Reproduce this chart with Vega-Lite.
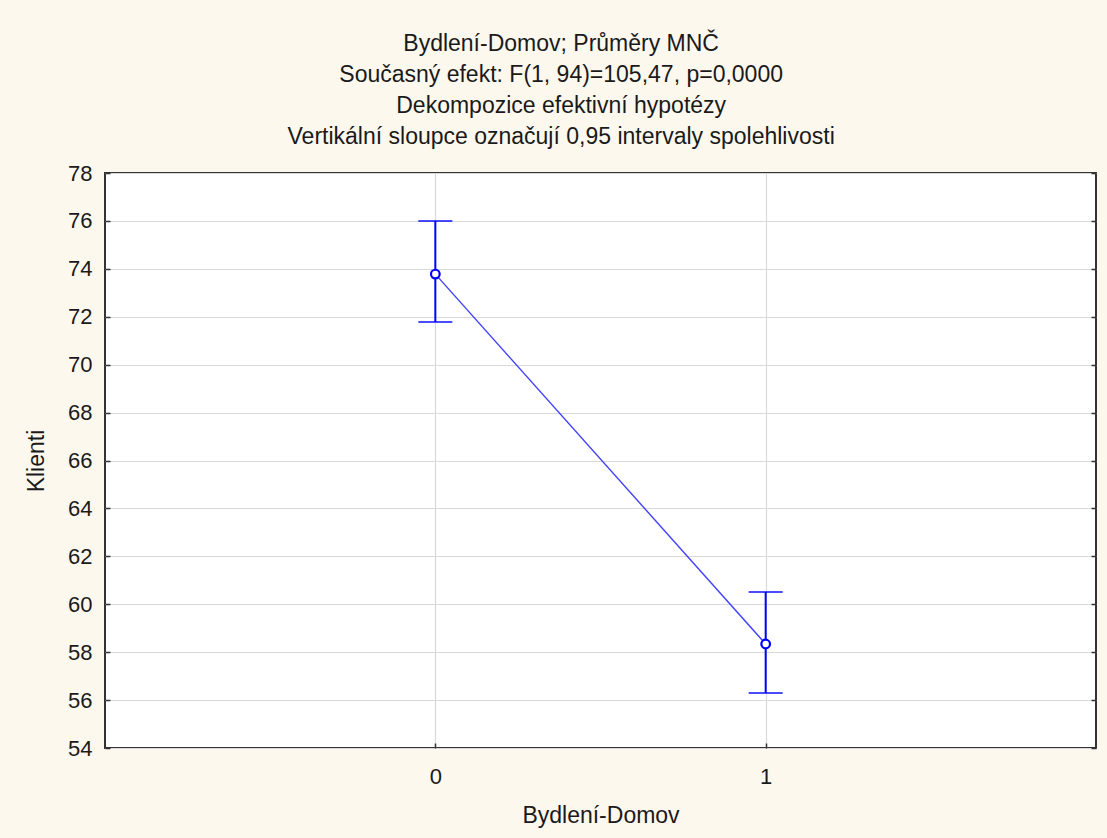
{
  "$schema": "https://vega.github.io/schema/vega-lite/v6.json",
  "width": 991,
  "height": 575,
  "autosize": {"type": "none"},
  "padding": {"left": 105, "top": 173, "right": 11, "bottom": 90},
  "background": "#fdf8ee",
  "title": {
    "text": ["Bydlení-Domov; Průměry MNČ", "Současný efekt: F(1, 94)=105,47, p=0,0000", "Dekompozice efektivní hypotézy", "Vertikální sloupce označují 0,95 intervaly spolehlivosti"],
    "font": "Liberation Sans",
    "fontSize": 23,
    "fontWeight": "normal",
    "color": "#1a1a1a",
    "lineHeight": 31,
    "anchor": "middle",
    "frame": "bounds",
    "offset": 13
  },
  "config": {
    "view": {"fill": "white", "stroke": "#333333", "strokeWidth": 2},
    "axis": {
      "labelFont": "Liberation Sans",
      "titleFont": "Liberation Sans",
      "labelFontSize": 22,
      "titleFontSize": 23,
      "labelColor": "#1a1a1a",
      "titleColor": "#1a1a1a",
      "titleFontWeight": "normal",
      "gridColor": "#d9d9d9",
      "gridWidth": 1.2,
      "domain": false,
      "tickColor": "#333333",
      "tickSize": -5,
      "tickWidth": 1.5
    }
  },
  "data": {
    "values": [
      {"g": 0, "mean": 73.78, "lo": 71.78, "hi": 76.0},
      {"g": 1, "mean": 58.34, "lo": 56.3, "hi": 60.51}
    ]
  },
  "encoding": {
    "x": {
      "field": "g",
      "type": "quantitative",
      "scale": {"domain": [-1, 2], "nice": false, "zero": false},
      "axis": {"values": [0, 1], "title": "Bydlení-Domov", "labelPadding": 23, "titlePadding": 17, "format": "d"}
    }
  },
  "layer": [
    {
      "mark": {"type": "rule", "color": "#0000ff", "strokeWidth": 2},
      "encoding": {
        "y": {
          "field": "lo",
          "type": "quantitative",
          "scale": {"domain": [54, 78], "nice": false, "zero": false},
          "axis": {"values": [54, 56, 58, 60, 62, 64, 66, 68, 70, 72, 74, 76, 78], "title": "Klienti", "labelPadding": 18, "titlePadding": 19}
        },
        "y2": {"field": "hi"}
      }
    },
    {
      "mark": {"type": "tick", "orient": "horizontal", "color": "#0000ff", "size": 34, "thickness": 2},
      "encoding": {"y": {"field": "lo", "type": "quantitative", "axis": null}}
    },
    {
      "mark": {"type": "tick", "orient": "horizontal", "color": "#0000ff", "size": 34, "thickness": 2},
      "encoding": {"y": {"field": "hi", "type": "quantitative", "axis": null}}
    },
    {
      "mark": {"type": "line", "color": "#4040ff", "strokeWidth": 1.4},
      "encoding": {"y": {"field": "mean", "type": "quantitative", "axis": null}}
    },
    {
      "mark": {"type": "point", "shape": "circle", "filled": false, "color": "#0000ff", "fill": "white", "size": 75, "strokeWidth": 2.2, "opacity": 1},
      "encoding": {"y": {"field": "mean", "type": "quantitative", "axis": null}}
    },
    {
      "mark": {"type": "rule", "opacity": 0},
      "encoding": {
        "y": {
          "field": "mean",
          "type": "quantitative",
          "axis": {"orient": "right", "values": [54, 56, 58, 60, 62, 64, 66, 68, 70, 72, 74, 76, 78], "labels": false, "title": null, "grid": false}
        }
      }
    }
  ],
  "resolve": {"scale": {"y": "shared"}, "axis": {"y": "independent"}}
}
